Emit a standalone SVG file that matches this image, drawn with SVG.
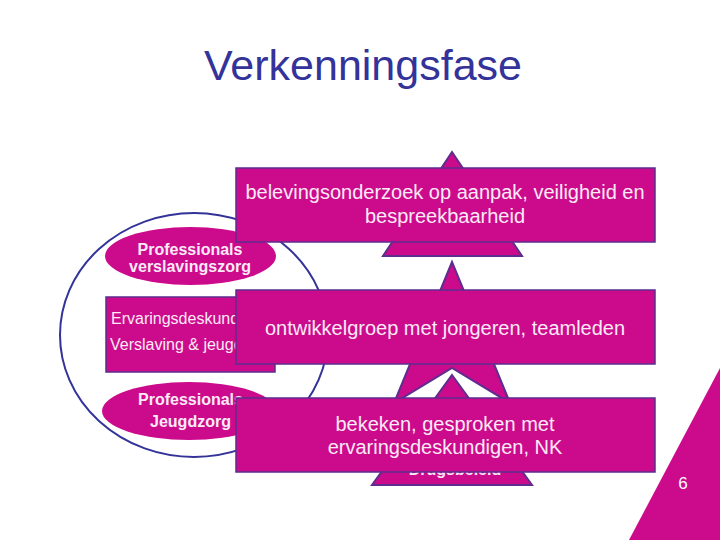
<svg xmlns="http://www.w3.org/2000/svg" width="720" height="540" viewBox="0 0 720 540">
<style>
.fill{fill:#CC0A8C}
.box{fill:#CC0A8C;stroke:#5E2D8E;stroke-width:1.5}
.tri{fill:#CC0A8C;stroke:#5E2D8E;stroke-width:2;stroke-linejoin:miter}
.t{font-family:"Liberation Sans",Arial,sans-serif;fill:#FBEAF7}
.big{font-size:20px;text-anchor:middle}
.ell{font-size:16px;font-weight:bold;text-anchor:middle}
.rt{font-size:16px}
</style>
<rect width="720" height="540" fill="#ffffff"/>
<text x="363" y="80" font-family="'Liberation Sans',Arial,sans-serif" font-size="43" fill="#333399" text-anchor="middle">Verkenningsfase</text>

<g id="circle"><ellipse cx="194" cy="335" rx="134" ry="122" fill="none" stroke="#333399" stroke-width="2"/></g>

<g id="tri-top"><polygon class="tri" points="452,152 522,256 383,256"/></g>
<g id="tri-mid"><polygon class="tri" points="452,262 510,403 452,368 394,403"/></g>
<g id="tri-bottom"><polygon class="tri" points="452,375 532,485 372,485"/>
<text class="t ell" x="455" y="475">Drugsbeleid</text></g>

<g id="prof-verslaving"><ellipse class="fill" cx="190.5" cy="256" rx="85.5" ry="29"/>
<text class="t ell" x="190" y="255">Professionals</text>
<text class="t ell" x="190" y="272">verslavingszorg</text></g>

<g id="ervaringsdeskundigen"><rect class="box" x="106" y="297" width="169" height="75" stroke-width="1"/>
<text class="t rt" x="111" y="324">Ervaringsdeskundigen</text>
<text class="t rt" x="110" y="350">Verslaving &amp; jeugd</text></g>

<g id="prof-jeugdzorg"><ellipse class="fill" cx="189" cy="411" rx="87" ry="29"/>
<text class="t ell" x="190.5" y="405">Professionals</text>
<text class="t ell" x="190.5" y="427">Jeugdzorg</text></g>

<g id="box1"><rect class="box" x="236" y="168" width="419" height="74"/>
<text class="t big" x="445" y="199">belevingsonderzoek op aanpak, veiligheid en</text>
<text class="t big" x="445" y="223">bespreekbaarheid</text></g>

<g id="box2"><rect class="box" x="236" y="290" width="419" height="74"/>
<text class="t big" x="445" y="335">ontwikkelgroep met jongeren, teamleden</text></g>

<g id="box3"><rect class="box" x="236" y="398" width="419" height="74"/>
<text class="t big" x="445" y="431">bekeken, gesproken met</text>
<text class="t big" x="445" y="454">ervaringsdeskundigen, NK</text></g>

<g id="page"><polygon class="fill" points="720,368 720,540 629,540"/>
<text x="683" y="489" font-family="'Liberation Sans',Arial,sans-serif" font-size="17" fill="#ffffff" text-anchor="middle">6</text></g>
</svg>
